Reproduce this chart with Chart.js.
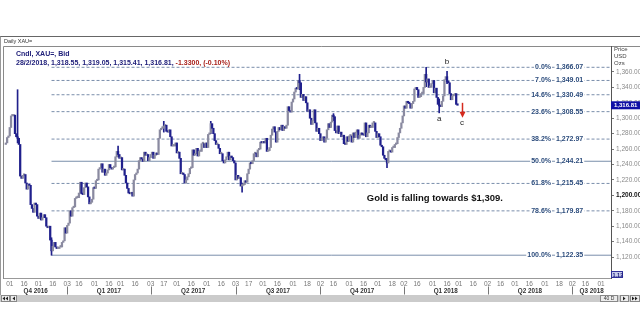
<!DOCTYPE html>
<html><head><meta charset="utf-8">
<script src="https://cdn.jsdelivr.net/npm/chart.js@4.4.1/dist/chart.umd.min.js"></script>
<style>html,body{margin:0;padding:0;background:#fff;overflow:hidden}canvas{display:block}</style>
</head><body>
<canvas id="c" width="640" height="320"></canvas>
<script>
// ---------------- data ----------------
const startDate = '2016-10-27';
const holidays = ['2017-01-02', '2017-12-25', '2018-01-01'];
const firstOpen = 1266;
const closes = [
  // Oct 2016
  1268,1275,1277,
  // Nov 2016
  1288,1303,1303,1304,1280,1276,1274,1266,1225,1222,1226,1227,1216,1208,1214,1213,1188,1183,1178,1190,1188,1173,
  // Dec 2016
  1170,1177,1168,1171,1175,1171,1160,1158,1160,1142,1128,1134,1139,1133,1131,1131,1133,1133,1139,1141,1158,1151,
  // Jan 2017
  1161,1164,1180,1173,1184,1185,1196,1197,1197,1203,1217,1202,1201,1210,1216,1211,1198,1189,1191,1195,1210,
  // Feb 2017
  1209,1219,1220,1234,1236,1241,1230,1234,1226,1229,1233,1240,1236,1234,1236,1237,1250,1257,1253,1248,
  // Mar 2017
  1249,1233,1234,1226,1216,1209,1203,1202,1204,1199,1220,1227,1229,1234,1245,1249,1247,1244,1256,1252,1253,1245,1249,
  // Apr 2017
  1253,1256,1248,1252,1255,1253,1274,1285,1287,1287,1290,1291,1283,1282,1285,1276,1264,1264,1264,1268,
  // May 2017
  1255,1256,1248,1228,1228,1227,1216,1220,1224,1228,1235,1236,1259,1252,1254,1261,1251,1257,1257,1267,1267,1262,1268,
  // Jun 2017
  1262,1279,1281,1293,1287,1280,1271,1266,1266,1261,1254,1254,1245,1242,1246,1250,1256,1246,1251,1249,1245,1242,
  // Jul 2017
  1220,1226,1222,1223,1212,1213,1214,1219,1217,1228,1234,1242,1241,1245,1254,1255,1250,1259,1260,1269,1268,
  // Aug 2017
  1270,1268,1274,1257,1258,1262,1278,1286,1289,1282,1269,1283,1288,1285,1291,1284,1289,1287,1291,1315,1310,1308,1321,
  // Sep 2017
  1325,1334,1339,1338,1349,1346,1327,1331,1323,1328,1320,1309,1311,1300,1292,1297,1311,1294,1283,1287,1280,
  // Oct 2017
  1271,1274,1276,1269,1274,1285,1293,1288,1295,1304,1302,1284,1281,1290,1280,1282,1276,1278,1267,1266,1276,1270,
  // Nov 2017
  1277,1277,1269,1281,1275,1282,1285,1274,1278,1281,1279,1278,1294,1276,1281,1291,1288,1288,1294,1294,1283,1275,
  // Dec 2017
  1280,1276,1265,1263,1252,1248,1246,1242,1257,1257,1256,1262,1262,1266,1267,1275,1281,1287,1294,1303,
  // Jan 2018
  1316,1313,1322,1320,1319,1313,1319,1322,1338,1340,1337,1327,1328,1332,1332,1340,1357,1347,1351,1340,1340,1345,
  // Feb 2018
  1349,1333,1339,1327,1318,1316,1315,1322,1329,1350,1354,1347,1346,1332,1324,1329,1330,1332,1318,1316.81
];
// notable wicks (trading-day index, low, high)
const wickIdx  = [9,    35,      86,   121,  157,  181,  225,  251,  292,  322,     332,  338];
const wickLow  = [1268, 1122.35, 1250, 1282, 1280, 1204, 1337, 1297, 1236, 1341,    1307, 1345];
const wickHigh = [1337, 1145,    1264, 1296, 1296, 1216, 1357, 1306, 1248, 1366.07, 1325, 1361];

const fibPct    = ['0.0%','7.0%','14.6%','23.6%','38.2%','50.0%','61.8%','78.6%','100.0%'];
const fibLevels = [1366.07,1349.01,1330.49,1308.55,1272.97,1244.21,1215.45,1179.87,1122.35];
const fibDashed = [true,true,true,true,true,false,true,true,false];
const fibStartIdx = 35;

const yTicks = [1120,1140,1160,1180,1200,1220,1240,1260,1280,1300,1320,1340,1360];
const quarters = ['Q4 2016','Q1 2017','Q2 2017','Q3 2017','Q4 2017','Q1 2018','Q2 2018','Q3 2018'];
const lastPrice = 1316.81;
const header1 = 'Cndl, XAU=, Bid';
const header2a = '28/2/2018, 1,318.55, 1,319.05, 1,315.41, 1,316.81,';
const header2b = ' -1.3300, (-0.10%)';
const note = 'Gold is falling towards $1,309.';
const waveLabels = [['a',332,1299],['b',338,1373],['c',349.5,1294]];

// ---------------- layout helpers ----------------
const FONT = '"Liberation Sans", Arial, sans-serif';
const XMIN = -1.4, XMAX = 463.6;
const UP = '#8a8aa0', DOWN = '#20208c';

function fmtDate(d){return d.getUTCFullYear()+'-'+String(d.getUTCMonth()+1).padStart(2,'0')+'-'+String(d.getUTCDate()).padStart(2,'0');}
const dates = [];
(function(){ let d = new Date(startDate+'T00:00:00Z');
  while (dates.length < 470) { const wd = d.getUTCDay();
    if (wd !== 0 && wd !== 6 && !holidays.includes(fmtDate(d))) dates.push(new Date(d));
    d.setUTCDate(d.getUTCDate()+1); } })();
const tickIdx = [], quarterIdx = [];
for (let i = 1; i < dates.length && i <= XMAX; i++) {
  const a = dates[i-1], b = dates[i];
  if (a.getUTCMonth() !== b.getUTCMonth()) { tickIdx.push(i); if (b.getUTCMonth() % 3 === 0) quarterIdx.push(i); }
  else if (b.getUTCDate() >= 16 && a.getUTCDate() < 16) tickIdx.push(i);
}
function fmtNum(v){ return v.toLocaleString('en-US',{minimumFractionDigits:2, maximumFractionDigits:2}); }

const deco = {
  id: 'deco',
  beforeDraw(chart) {
    const c = chart.ctx; c.save();
    c.fillStyle = '#fff'; c.fillRect(0,0,640,320);
    c.strokeStyle = '#666'; c.lineWidth = 1;
    c.beginPath(); c.moveTo(0,36.5); c.lineTo(640,36.5); c.stroke();
    c.strokeStyle = '#8a8a8a';
    c.beginPath(); c.moveTo(3.5,46.5); c.lineTo(640,46.5); c.stroke();
    c.beginPath(); c.moveTo(3.5,46.5); c.lineTo(3.5,279); c.stroke();
    c.strokeStyle = '#999';
    c.beginPath(); c.moveTo(0.5,36.5); c.lineTo(0.5,295); c.stroke();
    c.restore();
  },
  afterDatasetsDraw(chart) {
    const c = chart.ctx, xs = chart.scales.x, ys = chart.scales.y;
    c.save();
    // fib labels
    c.font = 'bold 7px ' + FONT; c.textBaseline = 'middle';
    fibLevels.forEach((lv, i) => {
      const y = ys.getPixelForValue(lv);
      const p = fibPct[i], v = fmtNum(lv);
      const wp = c.measureText(p).width, wv = c.measureText(v).width;
      c.fillStyle = '#fff';
      c.fillRect(551 - wp - 1, y - 4, wp + 2, 8);
      c.fillRect(556 - 1, y - 4, wv + 2, 8);
      c.fillStyle = '#2c4c7c';
      c.textAlign = 'right'; c.fillText(p, 551, y);
      c.textAlign = 'left'; c.fillText(v, 556, y);
    });
    // wave labels
    c.font = '8px ' + FONT; c.fillStyle = '#222'; c.textAlign = 'center';
    waveLabels.forEach(([t, xi, yv]) => c.fillText(t, xs.getPixelForValue(xi), ys.getPixelForValue(yv)));
    // red arrow
    const ax = Math.round(xs.getPixelForValue(349.5)) + 0.5;
    const y1 = ys.getPixelForValue(1320), y2 = ys.getPixelForValue(1302);
    c.strokeStyle = '#d42a1e'; c.fillStyle = '#d42a1e'; c.lineWidth = 1.5;
    c.beginPath(); c.moveTo(ax, y1); c.lineTo(ax, y2 - 4); c.stroke();
    c.beginPath(); c.moveTo(ax - 3, y2 - 5); c.lineTo(ax + 3, y2 - 5); c.lineTo(ax, y2 + 1); c.closePath(); c.fill();
    // note
    c.font = 'bold 9.5px ' + FONT; c.fillStyle = '#111'; c.textAlign = 'left';
    c.fillText(note, xs.getPixelForValue(276.5), ys.getPixelForValue(1196.5));
    c.restore();
  },
  afterDraw(chart) {
    const c = chart.ctx, xs = chart.scales.x, ys = chart.scales.y, ca = chart.chartArea;
    c.save();
    // header
    c.textBaseline = 'middle'; c.textAlign = 'left';
    c.font = '5.5px ' + FONT; c.fillStyle = '#333'; c.fillText('Daily XAU=', 4, 41.5);
    c.font = 'bold 7px ' + FONT; c.fillStyle = '#20207a'; c.fillText(header1, 16, 54);
    c.fillText(header2a, 16, 63);
    const w2 = c.measureText(header2a).width;
    c.fillStyle = '#a8201a'; c.fillText(header2b, 16 + w2, 63);
    // right axis title
    c.font = '6px ' + FONT; c.fillStyle = '#444';
    c.fillText('Price', 614, 49.5); c.fillText('USD', 614, 56.5); c.fillText('Ozs', 614, 63.5);
    // last price tag
    const py = ys.getPixelForValue(lastPrice);
    c.fillStyle = '#1010a6'; c.fillRect(ca.right, py - 4, 640 - ca.right, 8);
    c.fillStyle = '#fff'; c.font = 'bold 6px ' + FONT; c.fillText(fmtNum(lastPrice), ca.right + 3, py + 0.5);
    // small bottom-right tag
    c.fillStyle = '#c6cbea'; c.fillRect(ca.right, 271, 12, 7);
    c.strokeStyle = '#30309a'; c.lineWidth = 1; c.strokeRect(ca.right + 0.5, 271.5, 11, 6);
    c.fillStyle = '#202080'; c.font = 'bold 5.5px ' + FONT; c.fillText('1,12', ca.right + 1.5, 275);
    // quarter separators & labels
    const qx = quarterIdx.map(i => xs.getPixelForValue(i));
    c.strokeStyle = '#777'; c.lineWidth = 1;
    qx.forEach(x => { const rx = Math.round(x) + 0.5; c.beginPath(); c.moveTo(rx, 286.5); c.lineTo(rx, 294.5); c.stroke(); });
    const bounds = [ca.left].concat(qx).concat([ca.right]);
    c.font = 'bold 6.3px ' + FONT; c.fillStyle = '#333'; c.textAlign = 'center';
    for (let k = 0; k < bounds.length - 1 && k < quarters.length; k++) c.fillText(quarters[k], (bounds[k] + bounds[k+1]) / 2, 291.5);
    // scrollbar
    c.fillStyle = '#cbcbcb'; c.fillRect(0, 295, 640, 7);
    const btn = (x, w) => { c.fillStyle = '#ececec'; c.fillRect(x, 295.5, w, 6); c.strokeStyle = '#888'; c.strokeRect(x + 0.5, 295.5, w - 1, 6); };
    const tri = (x, dir) => { c.fillStyle = '#222'; c.beginPath(); c.moveTo(x, 298.5 - 2); c.lineTo(x, 298.5 + 2); c.lineTo(x + 2.5 * dir, 298.5); c.closePath(); c.fill(); };
    btn(1, 9); tri(5, -1); tri(8, -1);
    btn(10, 7); tri(15, -1);
    btn(600, 18); c.fillStyle = '#333'; c.font = '5px ' + FONT; c.textAlign = 'center'; c.fillText('40 D', 609, 298.7);
    btn(620, 9); tri(623, 1);
    btn(630, 10); tri(632, 1); tri(635, 1);
    c.restore();
  }
};

const datasets = [
  { type: 'bar', label: 'body', order: 1, grouped: false,
    data: closes.map((v, i) => ({ x: i, y: [i ? closes[i-1] : firstOpen, v] })),
    backgroundColor: ctx => (ctx.raw && ctx.raw.y[1] >= ctx.raw.y[0]) ? UP : DOWN,
    barThickness: 1.6, minBarLength: 1.5, borderWidth: 0 },
  { type: 'bar', label: 'wick', order: 2, grouped: false,
    data: wickIdx.map((xi, k) => ({ x: xi, y: [wickLow[k], wickHigh[k]] })),
    backgroundColor: DOWN, barThickness: 1, borderWidth: 0 }
];
fibLevels.forEach((lv, i) => datasets.push({
  type: 'line', label: fibPct[i], order: 3,
  data: [{ x: fibStartIdx, y: lv }, { x: XMAX, y: lv }],
  borderColor: '#7a8eab', borderWidth: 1, borderDash: fibDashed[i] ? [3, 2] : [],
  pointRadius: 0, fill: false, tension: 0
}));

new Chart(document.getElementById('c'), {
  type: 'bar',
  data: { datasets },
  options: {
    responsive: false, devicePixelRatio: 1, animation: false,
    layout: { padding: { top: 46, left: 4, right: 0, bottom: 0 } },
    plugins: { legend: { display: false }, tooltip: { enabled: false } },
    scales: {
      x: {
        type: 'linear', min: XMIN, max: XMAX, position: 'bottom', offset: false,
        afterBuildTicks: s => { s.ticks = tickIdx.map(v => ({ value: v })); },
        afterFit: s => { s.height = 42; },
        grid: { display: false, drawTicks: false },
        border: { display: true, color: '#999' },
        ticks: { autoSkip: false, maxRotation: 0, minRotation: 0, padding: 2, color: '#777',
          font: { family: FONT, size: 6.5 },
          callback: v => dates[v] ? String(dates[v].getUTCDate()).padStart(2, '0') : '' }
      },
      y: {
        position: 'right', min: 1092.8, max: 1393.7,
        afterBuildTicks: s => { s.ticks = yTicks.map(v => ({ value: v })); },
        afterFit: s => { s.width = 29; },
        grid: { drawOnChartArea: false, drawTicks: true, tickLength: 3, color: '#777' },
        border: { display: true, color: '#555' },
        ticks: { padding: 2,
          color: c => (c.tick && c.tick.value === 1200) ? '#111' : '#8a8a8a',
          font: c => ({ family: FONT, size: 6.5, weight: (c.tick && c.tick.value === 1200) ? 'bold' : 'normal' }),
          callback: v => fmtNum(v) }
      }
    }
  },
  plugins: [deco]
});
</script>
</body></html>
